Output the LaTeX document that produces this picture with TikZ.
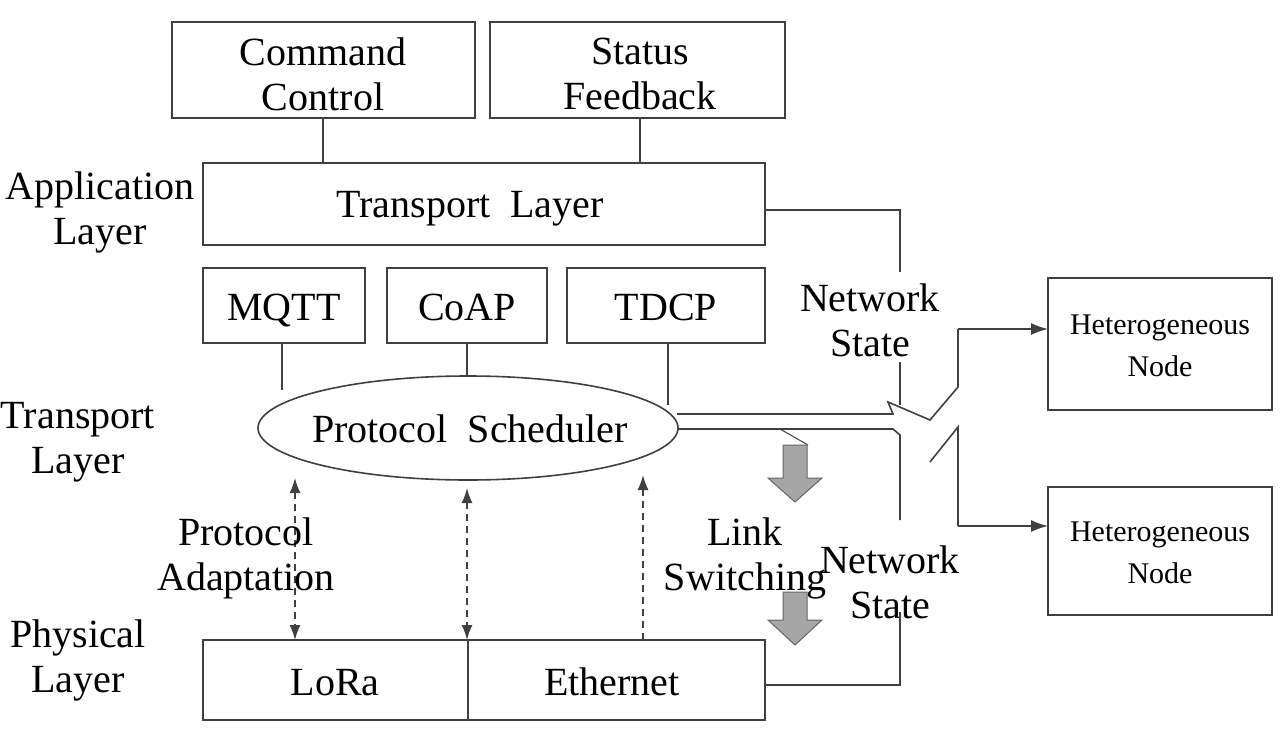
\documentclass[tikz,border=0pt]{standalone}
\usepackage{fontspec}
\setmainfont{Liberation Serif}
\usetikzlibrary{arrows.meta}
\begin{document}
\begin{tikzpicture}[x=1pt,y=-1pt,
  ln/.style={draw=black!75,line width=1.6pt},
  txt/.style={font=\fontsize{40}{45}\selectfont,align=center},
  one/.style={txt,anchor=base},
  dar/.style={ln,dashed,dash pattern=on 7pt off 5pt},
  tip/.style={-{Latex[length=17pt,width=12pt]}},
  dtip/.style={{Latex[length=15pt,width=11pt]}-{Latex[length=15pt,width=11pt]}}]
\useasboundingbox (0,0) rectangle (1284,744);
\fill[white] (0,0) rectangle (1284,744);
% boxes
\draw[ln] (172,22) rectangle (475,118);
\node[txt] (cc) at (323,74) {Command\\Control};
\draw[ln] (490,22) rectangle (785,118);
\node[txt] (sf) at (640,74) {Status\\Feedback};
\draw[ln] (203,163) rectangle (765,245);
\node[one] (tl) at (470,217) {Transport\enspace Layer};
\draw[ln] (203,268) rectangle (365,343); \node[one] (mq) at (284,320) {MQTT};
\draw[ln] (387,268) rectangle (547,343); \node[one] (co) at (467,320) {CoAP};
\draw[ln] (567,268) rectangle (765,343); \node[one] (td) at (666,320) {TDCP};
\draw[ln] (468,428) ellipse (210 and 52);
\node[one] (ps) at (470,442) {Protocol\enspace Scheduler};
\draw[ln] (203,640) rectangle (765,720); \draw[ln] (468,640)--(468,720);
\node[one] (lo) at (335,695) {LoRa};
\node[one] (et) at (612,695) {Ethernet};
\draw[ln] (1048,278) rectangle (1272,410);
\node[txt,font=\fontsize{30}{42}\selectfont] (h1) at (1160,346) {Heterogeneous\\Node};
\draw[ln] (1048,487) rectangle (1272,615);
\node[txt,font=\fontsize{30}{42}\selectfont] (h2) at (1160,553) {Heterogeneous\\Node};
% vertical connectors
\draw[ln] (323,118)--(323,163); \draw[ln] (640,118)--(640,163);
\draw[ln] (282,343)--(282,390); \draw[ln] (467,343)--(467,376); \draw[ln] (668,343)--(668,405);
% dashed
\draw[dar,dtip] (295,478)--(295,640);
\draw[dar,dtip] (467,488)--(467,640);
\draw[dar,-{Latex[length=15pt,width=11pt]}] (643,640)--(643,475);
% labels
\node[txt] (al) at (100,212) {Application\\Layer};
\node[txt] (tr) at (78,442) {Transport\\Layer};
\node[txt] (pl) at (78,660) {Physical\\Layer};
\node[txt] (pa) at (246,558) {Protocol\\Adaptation};
\node[txt] (ls) at (745,558) {Link\\Switching};
\node[txt] (ns1) at (870,320) {Network\\State};
\node[txt] (ns2) at (890,582) {Network\\State};
% right network
\draw[ln] (765,210)--(900,210)--(900,272);
\draw[ln] (900,362)--(900,405);
\draw[ln] (677,414)--(893,414)--(888,402)--(930,420)--(958,387)--(958,329);
\draw[ln,tip] (958,329)--(1048,329);
\draw[ln] (677,429)--(893,429)--(900,435)--(900,520);
\draw[ln] (900,612)--(900,685)--(765,685);
\draw[ln] (930,462)--(958,427)--(958,526);
\draw[ln,tip] (958,526)--(1048,526);
% grey block arrows
\draw[ln,line width=1pt] (780,429)--(808,445);
\draw[black!60,fill=black!35,line width=1pt] (783,445)--(807,445)--(807,478)--(822,478)--(795,502)--(768,478)--(783,478)--cycle;
\draw[black!60,fill=black!35,line width=1pt] (783,592)--(807,592)--(807,620)--(822,620)--(795,645)--(768,620)--(783,620)--cycle;
\end{tikzpicture}
\end{document}
